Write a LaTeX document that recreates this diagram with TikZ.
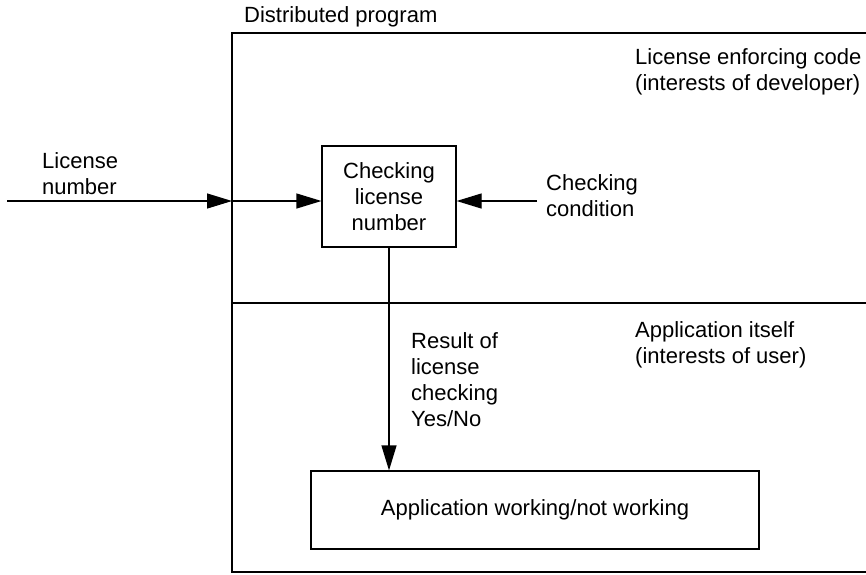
\documentclass[tikz,border=0pt]{standalone}
\usepackage{fontspec}
\setmainfont{Liberation Sans}
\usetikzlibrary{arrows.meta}

\begin{document}
\begin{tikzpicture}[x=1pt,y=-1pt,
  font=\fontsize{22}{26}\selectfont,
  box/.style={draw,line width=1.2pt,inner sep=0pt,align=center},
  label text/.style={inner sep=0pt,anchor=north west,align=left},
  flow/.style={line width=1.2pt,-{Triangle[length=25pt,width=15pt]}}]
  \useasboundingbox (0,0) rectangle (866,574);

  % outer program frame, cut off on the right
  \draw[line width=1.5pt] (866,33) -- (232,33) -- (232,572) -- (866,572);
  \draw[line width=1.5pt] (232,303) -- (866,303);

  \node[label text] (prog) at (244,6) {Distributed program};
  \node[label text] (dev) at (635,48) {License enforcing code\\(interests of developer)};
  \node[label text] (usr) at (635,321) {Application itself\\(interests of user)};

  \node[box, minimum width=134pt, minimum height=101pt] (chk) at (389,196.5) {Checking\\license\\number};
  \node[box, minimum width=448pt, minimum height=78pt] (app) at (535,510) {Application working/not working};

  \node[label text] (num) at (42,152) {License\\number};
  \node[label text] (cond) at (546,174) {Checking\\condition};
  \node[label text] (res) at (411,332) {Result of\\license\\checking\\Yes/No};

  \coordinate (src) at (7,201);
  \coordinate (gate) at (232,201);
  \coordinate (cnd) at (537,201);

  \draw[flow] (src) -- (gate);
  \draw[flow] (gate) -- (chk.west |- gate);
  \draw[flow] (cnd) -- (chk.east |- cnd);
  \draw[flow] (chk.south) -- (app.north -| chk.south);
\end{tikzpicture}
\end{document}
